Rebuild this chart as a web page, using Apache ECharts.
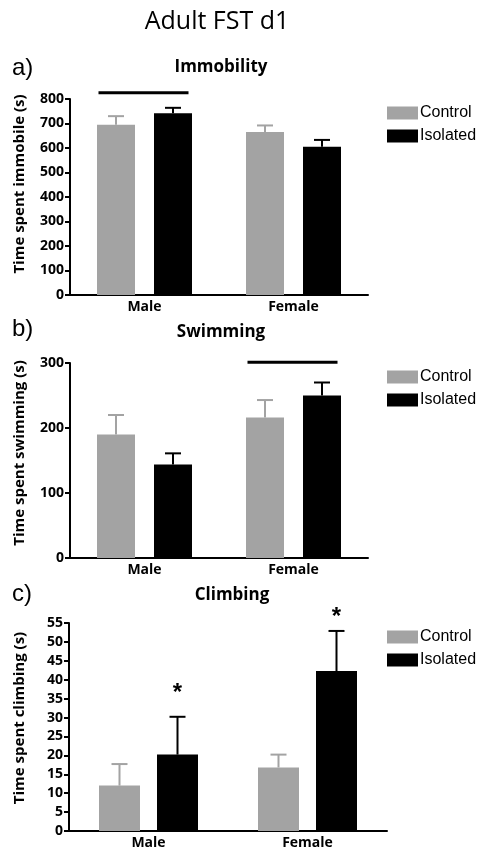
<!DOCTYPE html>
<html><head><meta charset="utf-8">
<script src="https://cdn.jsdelivr.net/npm/echarts@6/dist/echarts.min.js"></script>
<style>html,body{margin:0;padding:0;background:#fff}#c{width:488px;height:860px}</style>
</head><body><div id="c"></div>
<script>
// ---- data ----
const categories = ['Male', 'Female'];
const groups = ['Control', 'Isolated'];

const immobControl = [695, 665];
const immobControlErr = [35, 27];
const immobIsolated = [742, 605];
const immobIsolatedErr = [22, 28];
const immobTicks = [0, 100, 200, 300, 400, 500, 600, 700, 800];
const immobSig = [[0, 826]];

const swimControl = [190, 216];
const swimControlErr = [30, 27];
const swimIsolated = [144, 250];
const swimIsolatedErr = [17, 20];
const swimTicks = [0, 100, 200, 300];
const swimSig = [[1, 301]];

const climbControl = [12, 16.8];
const climbControlErr = [5.7, 3.4];
const climbIsolated = [20.2, 42.3];
const climbIsolatedErr = [10, 10.6];
const climbTicks = [0, 5, 10, 15, 20, 25, 30, 35, 40, 45, 50, 55];
const climbStars = [[0, 37.8], [1, 57.7]];

const mainTitle = 'Adult FST d1';
const panelTitles = ['Immobility', 'Swimming', 'Climbing'];
const panelLetters = ['a)', 'b)', 'c)'];
const yNames = ['Time spent immobile (s)', 'Time spent swimming (s)', 'Time spent climbing (s)'];

// ---- styles / layout ----
const GRAY = '#a3a3a3', BLACK = '#000000';
const FONT = "'Open Sans', 'Liberation Sans', sans-serif";
const panels = [
  { ctrl: immobControl, ctrlErr: immobControlErr, iso: immobIsolated, isoErr: immobIsolatedErr, ticks: immobTicks,
    grid: { left: 70, top: 99, width: 298, height: 196 }, barW: 38, gap: 19, legendTop: 105,
    titleY: 67.5, titleX: 221, letterY: 68, yNameY: 184 },
  { ctrl: swimControl, ctrlErr: swimControlErr, iso: swimIsolated, isoErr: swimIsolatedErr, ticks: swimTicks,
    grid: { left: 70, top: 363, width: 298, height: 195 }, barW: 38, gap: 19, legendTop: 369,
    titleY: 332, titleX: 221, letterY: 329, yNameY: 453 },
  { ctrl: climbControl, ctrlErr: climbControlErr, iso: climbIsolated, isoErr: climbIsolatedErr, ticks: climbTicks,
    grid: { left: 69, top: 623, width: 318, height: 208 }, barW: 41, gap: 17, legendTop: 629,
    titleY: 595, titleX: 232, letterY: 594, yNameY: 718 }
];

const chart = echarts.init(document.getElementById('c'), null, { renderer: 'canvas' });

const grids = [], xAxes = [], yAxes = [], series = [], legends = [], graphics = [];

function errSeries(gi, vals, errs, color, offset) {
  return {
    type: 'custom', xAxisIndex: gi, yAxisIndex: gi, z: 4, silent: true,
    encode: { x: 0, y: [1, 2] },
    data: vals.map((v, i) => [i, v, v + errs[i]]),
    renderItem: (params, api) => {
      const b = api.coord([api.value(0), api.value(1)]);
      const t = api.coord([api.value(0), api.value(2)]);
      const x = b[0] + offset;
      const st = { stroke: color, lineWidth: 2 };
      return { type: 'group', children: [
        { type: 'line', shape: { x1: x, y1: b[1], x2: x, y2: t[1] }, style: st },
        { type: 'line', shape: { x1: x - 8, y1: t[1], x2: x + 8, y2: t[1] }, style: st }
      ] };
    }
  };
}

panels.forEach((p, gi) => {
  const g = p.grid;
  grids.push({ left: g.left, top: g.top, width: g.width, height: g.height, containLabel: false });
  xAxes.push({
    type: 'category', gridIndex: gi, data: categories,
    axisLine: { lineStyle: { color: BLACK, width: 2 } },
    axisTick: { alignWithLabel: true, length: 5, lineStyle: { color: BLACK, width: 2 } },
    axisLabel: { color: BLACK, fontFamily: FONT, fontWeight: 'bold', fontSize: 14, margin: 5 },
    splitLine: { show: false }
  });
  const tk = p.ticks;
  yAxes.push({
    type: 'value', gridIndex: gi, min: tk[0], max: tk[tk.length - 1], interval: tk[1] - tk[0],
    axisLine: { show: true, lineStyle: { color: BLACK, width: 2 } },
    axisTick: { show: true, length: 5, lineStyle: { color: BLACK, width: 2 } },
    axisLabel: { color: BLACK, fontFamily: FONT, fontWeight: 'bold', fontSize: 14, margin: 6 },
    splitLine: { show: false }
  });
  const off = (p.barW + p.gap) / 2;
  series.push({ type: 'bar', name: groups[0], xAxisIndex: gi, yAxisIndex: gi, data: p.ctrl,
    barWidth: p.barW, barGap: (p.gap / p.barW * 100) + '%', itemStyle: { color: GRAY } });
  series.push({ type: 'bar', name: groups[1], xAxisIndex: gi, yAxisIndex: gi, data: p.iso,
    barWidth: p.barW, barGap: (p.gap / p.barW * 100) + '%', itemStyle: { color: BLACK } });
  series.push(errSeries(gi, p.ctrl, p.ctrlErr, GRAY, -off));
  series.push(errSeries(gi, p.iso, p.isoErr, BLACK, off));
  legends.push({
    data: groups, orient: 'vertical', left: 387, top: p.legendTop, padding: 0,
    itemWidth: 31, itemHeight: 13, itemGap: 7, icon: 'rect', selectedMode: false,
    textStyle: { color: BLACK, fontSize: 16, fontFamily: "'Liberation Sans', sans-serif", lineHeight: 16, padding: [0, 0, 0, -3] }
  });
  graphics.push({ type: 'text', x: p.titleX, y: p.titleY, style: { text: panelTitles[gi], fill: BLACK,
    font: "bold 17px 'Open Sans', sans-serif", align: 'center', verticalAlign: 'middle' } });
  graphics.push({ type: 'text', x: 12, y: p.letterY, style: { text: panelLetters[gi], fill: BLACK,
    font: "24px 'Liberation Sans', sans-serif", align: 'left', verticalAlign: 'middle' } });
  graphics.push({ type: 'text', x: 20, y: p.yNameY, rotation: Math.PI / 2, style: { text: yNames[gi], fill: BLACK,
    font: "bold 15px 'Open Sans', sans-serif", align: 'center', verticalAlign: 'middle' } });
});

// significance lines (spanning both bars of a group)
function sigSeries(gi, data) {
  return {
    type: 'custom', xAxisIndex: gi, yAxisIndex: gi, z: 5, silent: true, clip: false,
    encode: { x: 0, y: 1 }, data: data,
    renderItem: (params, api) => {
      const c = api.coord([api.value(0), api.value(1)]);
      return { type: 'line', shape: { x1: c[0] - 46, y1: c[1], x2: c[0] + 44, y2: c[1] },
        style: { stroke: BLACK, lineWidth: 3 } };
    }
  };
}
series.push(sigSeries(0, immobSig));
series.push(sigSeries(1, swimSig));

// asterisks above isolated bars
series.push({
  type: 'custom', xAxisIndex: 2, yAxisIndex: 2, z: 5, silent: true, clip: false,
  encode: { x: 0, y: 1 }, data: climbStars,
  renderItem: (params, api) => {
    const c = api.coord([api.value(0), api.value(1)]);
    const off = (panels[2].barW + panels[2].gap) / 2;
    return { type: 'text', x: c[0] + off, y: c[1] + 5,
      style: { text: '*', fill: BLACK, font: "bold 24px 'Liberation Sans', sans-serif", align: 'center', verticalAlign: 'middle' } };
  }
});

graphics.push({ type: 'text', x: 217, y: 22, style: { text: mainTitle, fill: BLACK,
  font: "25px 'Open Sans', sans-serif", align: 'center', verticalAlign: 'middle' } });

chart.setOption({
  animation: false,
  backgroundColor: '#ffffff',
  grid: grids, xAxis: xAxes, yAxis: yAxes, series: series, legend: legends,
  graphic: graphics
});
</script>
</body></html>
